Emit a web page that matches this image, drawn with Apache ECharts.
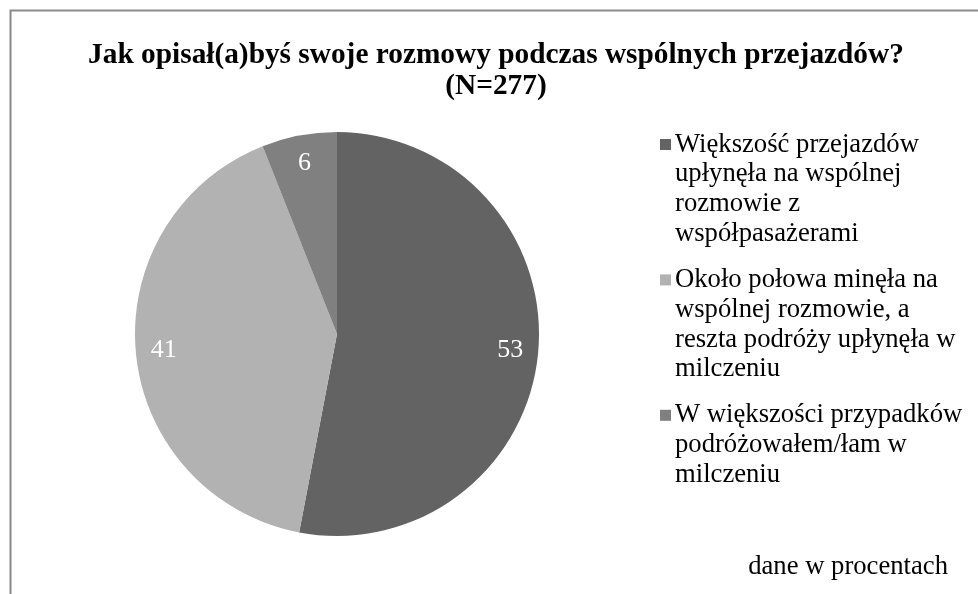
<!DOCTYPE html>
<html>
<head>
<meta charset="utf-8">
<script src="https://cdn.jsdelivr.net/npm/echarts@6/dist/echarts.min.js"></script>
<style>
html,body{margin:0;padding:0;background:#fff;}
#chart{width:978px;height:594px;}
</style>
</head>
<body>
<div id="chart"></div>
<script>
const titleText = 'Jak opisał(a)byś swoje rozmowy podczas wspólnych przejazdów?\n(N=277)';
const noteText = 'dane w procentach';
const legendLines = [
  ['Większość przejazdów', 'upłynęła na wspólnej', 'rozmowie z', 'współpasażerami'],
  ['Około połowa minęła na', 'wspólnej rozmowie, a', 'reszta podróży upłynęła w', 'milczeniu'],
  ['W większości przypadków', 'podróżowałem/łam w', 'milczeniu']
];
const categories = legendLines.map(l => l.join(' '));
const values = [53, 41, 6];
const colors = ['#636363', '#b2b2b2', '#808080'];

const FONT = '"Liberation Serif", "Times New Roman", serif';

const rich = {
  g: { width: 4 },
  ind: { width: 15 },
  t: { fontSize: 26.67, fontFamily: FONT, color: '#000', lineHeight: 29.8 }
};
colors.forEach((c, i) => { rich['s' + i] = { width: 11, height: 11, backgroundColor: c }; });

const chart = echarts.init(document.getElementById('chart'), null, { renderer: 'canvas' });
chart.setOption({
  animation: false,
  backgroundColor: '#fff',
  color: colors,
  title: [{
    text: titleText,
    left: 496,
    top: 39.5,
    padding: 0,
    textAlign: 'center',
    textStyle: { fontFamily: FONT, fontSize: 29.33, fontWeight: 'bold', color: '#000', lineHeight: 31 }
  }, {
    text: noteText,
    right: 30,
    top: 552,
    padding: 0,
    textStyle: { fontFamily: FONT, fontSize: 26.67, fontWeight: 'normal', color: '#000', lineHeight: 30 }
  }],
  graphic: [{
    type: 'polyline',
    shape: { points: [[10.5, 594], [10.5, 10.5], [978, 10.5]] },
    style: { stroke: '#8a8a8a', lineWidth: 2, fill: null },
    silent: true
  }],
  legend: {
    orient: 'vertical',
    left: 655,
    top: 131,
    padding: 0,
    itemGap: 19,
    itemWidth: 0,
    itemHeight: 10,
    icon: 'rect',
    itemStyle: { opacity: 0, borderWidth: 0 },
    selectedMode: false,
    data: categories,
    formatter: function (name) {
      const i = categories.indexOf(name);
      return legendLines[i].map((l, j) => (j === 0 ? '{s' + i + '|}{g|}' : '{ind|}') + '{t|' + l + '}').join('\n');
    },
    textStyle: { fontFamily: FONT, fontSize: 26.67, color: '#000', rich: rich }
  },
  series: [{
    type: 'pie',
    center: [337, 334],
    radius: [0, 202],
    startAngle: 90,
    clockwise: true,
    silent: true,
    label: { show: false },
    labelLine: { show: false },
    itemStyle: { borderWidth: 0, borderRadius: 0 },
    emphasis: { disabled: true },
    data: categories.map((n, i) => ({ name: n, value: values[i], itemStyle: { color: colors[i] } }))
  }, {
    type: 'pie',
    center: [337, 334],
    radius: [140, 202],
    startAngle: 90,
    clockwise: true,
    silent: true,
    legendHoverLink: false,
    itemStyle: { color: 'rgba(0,0,0,0)', borderWidth: 0 },
    emphasis: { disabled: true },
    labelLayout: { hideOverlap: false },
    label: { show: true, position: 'inside', formatter: '{c}', color: '#fff', fontFamily: FONT, fontSize: 26, textBorderWidth: 0 },
    labelLine: { show: false },
    data: categories.map((n, i) => ({ name: n, value: values[i] }))
  }]
});
</script>
</body>
</html>
